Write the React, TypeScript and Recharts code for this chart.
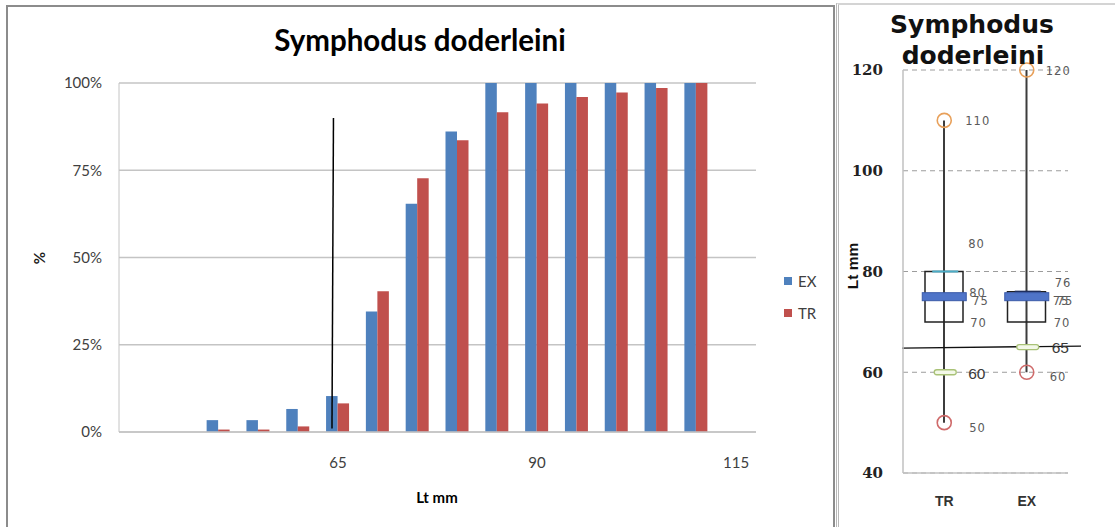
import React from 'react';
import {
  BarChart,
  Bar,
  ComposedChart,
  Scatter,
  XAxis,
  YAxis,
  CartesianGrid,
  Legend,
  ReferenceLine,
} from 'recharts';

// Cumulative length frequency (left chart)
const lengths = [40, 45, 50, 55, 60, 65, 70, 75, 80, 85, 90, 95, 100, 105, 110, 115];
const exPct = [null, null, 3.4, 3.4, 6.6, 10.3, 34.5, 65.4, 86.1, 100, 100, 100, 100, 100, 100, null];
const trPct = [null, null, 0.7, 0.7, 1.6, 8.2, 40.3, 72.7, 83.6, 91.6, 94.1, 96.0, 97.3, 98.6, 100, null];
const pctTicks = [0, 25, 50, 75, 100];
const lengthLabels = [65, 90, 115];
const markLength = 65;
const markSpan = [1, 90];

// Box plot (right chart)
const groups = ['TR', 'EX'];
const boxMin = [50, 60];
const boxQ1 = [70, 70];
const boxMedian = [75, 75];
const boxQ3 = [80, 76];
const boxMax = [110, 120];
const boxMark = [60, 65];
const boxExtra = [80, 75];
const mmTicks = [40, 60, 80, 100, 120];
const mmLine = 65;

const cumTable = lengths.map((len, i) => ({ len, ex: exPct[i], tr: trPct[i] }));

const boxTable = groups.map((name, i) => ({
  name,
  whisker: [boxMin[i], boxMax[i]],
  box: [boxQ1[i], boxQ3[i]],
  min: boxMin[i],
  q1: boxQ1[i],
  median: boxMedian[i],
  q3: boxQ3[i],
  max: boxMax[i],
  mark: boxMark[i],
  extra: boxExtra[i],
}));

const CALIBRI = 'Lato, "Open Sans", sans-serif';
const BLUE = '#4f81bd';
const RED = '#c0504d';

// label offsets next to each box-plot marker, per group [TR, EX]
const TAG_OFFSET: Record<string, number[][]> = {
  max: [[21, 1], [19, 1]],
  min: [[25, 5], [23, 5]],
  q1: [[26, 1], [27, 1]],
  q3: [[24, -28], [28, -9]],
  median: [[28, 4], [26, 4]],
  extra: [[25, 21], [30, 4]],
  mark: [[24, 1], [25, 1]],
};

const smallTag = { fontFamily: '"DejaVu Sans", sans-serif', fontSize: 11.5, fill: '#5a5a5a', letterSpacing: 1 };
const bigTag = { fontFamily: '"Liberation Sans", Arial, sans-serif', fontSize: 15.5, fill: '#3a3a3a' };

function tag(p: any, key: string, big = false) {
  const i = groups.indexOf(p.payload.name);
  const [dx, dy] = TAG_OFFSET[key][i];
  return (
    <text x={p.cx + dx} y={p.cy + dy} dy="0.35em" style={big ? bigTag : smallTag}>
      {p.payload[key]}
    </text>
  );
}

const markerShape = (key: string, draw: (cx: number, cy: number, i: number) => any, big = false) =>
  (p: any) => {
    const i = groups.indexOf(p.payload.name);
    return (
      <g>
        {draw(p.cx, p.cy, i)}
        {tag(p, key, big)}
      </g>
    );
  };

const circle = (color: string) => (cx: number, cy: number) => (
  <circle cx={cx} cy={cy} r={7} fill="none" stroke={color} strokeWidth={1.6} />
);

function LegendBox() {
  const items = [
    { label: 'EX', color: BLUE },
    { label: 'TR', color: RED },
  ];
  return (
    <div style={{ fontFamily: CALIBRI, fontSize: 15, color: '#404040' }}>
      {items.map((it) => (
        <div key={it.label} style={{ display: 'flex', alignItems: 'center', height: 32 }}>
          <span style={{ display: 'inline-block', width: 8, height: 8, background: it.color, marginRight: 6 }} />
          {it.label}
        </div>
      ))}
    </div>
  );
}

export default function App() {
  return (
    <div style={{ position: 'absolute', left: 0, top: 0, width: 1115, height: 527, background: '#fff', overflow: 'hidden' }}>
      {/* panel frames */}
      <div style={{ position: 'absolute', left: 6, top: 5, width: 829, height: 560, boxSizing: 'border-box', border: '2px solid #8c8c8c' }} />
      <div style={{ position: 'absolute', left: 836, top: 3, width: 300, height: 560, boxSizing: 'border-box', borderLeft: '3px double #b8b8b8', borderTop: '2px solid #d4d4d4' }} />

      <div style={{ position: 'absolute', left: 0, top: 0 }}>
        <BarChart
          width={835}
          height={527}
          data={cumTable}
          margin={{ top: 83, right: 79, bottom: 55, left: 59 }}
          barGap={0}
          barSize={11.5}
        >
          <CartesianGrid vertical={false} stroke="#c4c4c4" strokeWidth={1.5} />
          <XAxis
            dataKey="len"
            interval={0}
            height={40}
            tickLine={false}
            tickSize={0}
            tickMargin={25}
            axisLine={{ stroke: '#c4c4c4', strokeWidth: 1.5 }}
            tick={{ fontFamily: CALIBRI, fontSize: 15, fill: '#404040' }}
            tickFormatter={(v) => (lengthLabels.includes(v) ? String(v) : '')}
          />
          <YAxis
            domain={[0, 100]}
            ticks={pctTicks}
            width={60}
            tickLine={false}
            tickSize={0}
            tickMargin={17}
            axisLine={{ stroke: '#c4c4c4' }}
            tick={{ fontFamily: CALIBRI, fontSize: 15, fill: '#404040' }}
            tickFormatter={(v) => `${v}%`}
          />
          <Legend
            layout="vertical"
            align="center"
            verticalAlign="middle"
            wrapperStyle={{ left: 784, top: 265, width: 60 }}
            content={() => <LegendBox />}
          />
          <Bar dataKey="ex" name="EX" fill={BLUE} isAnimationActive={false} />
          <Bar dataKey="tr" name="TR" fill={RED} isAnimationActive={false} />
          <ReferenceLine
            segment={[{ x: markLength, y: markSpan[0] }, { x: markLength, y: markSpan[1] }]}
            shape={(p: any) => (
              <line x1={p.x1 - 6} y1={p.y1} x2={p.x2 - 4.5} y2={p.y2} stroke="#000" strokeWidth={1.5} />
            )}
          />
        </BarChart>
      </div>

      <div style={{ position: 'absolute', left: 835, top: 0 }}>
        <ComposedChart
          width={280}
          height={527}
          data={boxTable}
          margin={{ top: 70, right: 47, bottom: 24, left: 8 }}
        >
          <CartesianGrid xAxisId="main" vertical={false} stroke="#9c9c9c" strokeDasharray="5 4" />
          <XAxis
            xAxisId="main"
            dataKey="name"
            height={30}
            tickLine={false}
            tickSize={0}
            tickMargin={23}
            axisLine={{ stroke: '#c0c0c0', strokeWidth: 1.5 }}
            tick={{ fontFamily: '"Liberation Sans", Arial, sans-serif', fontWeight: 'bold', fontSize: 14, fill: '#333' }}
          />
          <XAxis xAxisId="boxes" dataKey="name" hide height={0} />
          <YAxis
            domain={[40, 120]}
            ticks={mmTicks}
            width={60}
            tickLine={false}
            tickSize={0}
            tickMargin={20}
            axisLine={{ stroke: '#c0c0c0', strokeWidth: 1.5 }}
            tick={{ fontFamily: '"DejaVu Serif", serif', fontWeight: 'bold', fontSize: 15, fill: '#222' }}
          />
          <Bar xAxisId="main" dataKey="whisker" barSize={2} fill="#3c3c3c" isAnimationActive={false} />
          <Bar xAxisId="boxes" dataKey="box" barSize={38} fill="none" stroke="#222" strokeWidth={1.5} isAnimationActive={false} />
          <ReferenceLine
            xAxisId="main"
            y={mmLine}
            shape={(p: any) => (
              <line x1={p.x1 - 1} y1={p.y1 + 1} x2={p.x2 + 13} y2={p.y2 - 1} stroke="#111" strokeWidth={1.3} />
            )}
          />
          <Scatter
            xAxisId="main"
            dataKey="q3"
            isAnimationActive={false}
            shape={markerShape('q3', (cx, cy, i) => (
              <line x1={cx - 12} y1={cy} x2={cx + 14} y2={cy} stroke={i === 0 ? '#4bacc6' : '#1f2f5f'} strokeWidth={2} />
            ))}
          />
          <Scatter
            xAxisId="main"
            dataKey="q1"
            isAnimationActive={false}
            shape={markerShape('q1', () => null)}
          />
          <Scatter
            xAxisId="main"
            dataKey="median"
            isAnimationActive={false}
            shape={markerShape('median', (cx, cy) => (
              <rect x={cx - 22} y={cy - 4} width={44} height={8} fill="#4f74c8" stroke="#3a5aa8" strokeWidth={1} />
            ))}
          />
          <Scatter
            xAxisId="main"
            dataKey="extra"
            isAnimationActive={false}
            shape={markerShape('extra', () => null)}
          />
          <Scatter
            xAxisId="main"
            dataKey="max"
            isAnimationActive={false}
            shape={markerShape('max', circle('#e8a05a'))}
          />
          <Scatter
            xAxisId="main"
            dataKey="min"
            isAnimationActive={false}
            shape={markerShape('min', circle('#cf6b6b'))}
          />
          <Scatter
            xAxisId="main"
            dataKey="mark"
            isAnimationActive={false}
            shape={markerShape('mark', (cx, cy) => (
              <rect x={cx - 10} y={cy - 2.5} width={22} height={5} rx={2.5} fill="#f3f8e8" stroke="#a9c277" strokeWidth={1.3} />
            ), true)}
          />
        </ComposedChart>
      </div>

      {/* titles and axis names */}
      <svg width={1115} height={527} style={{ position: 'absolute', left: 0, top: 0, pointerEvents: 'none' }}>
        <text x={420} y={51} textAnchor="middle" style={{ fontFamily: CALIBRI, fontWeight: 'bold', fontSize: 29.5, fill: '#000' }}>
          Symphodus doderleini
        </text>
        <text
          x={40}
          y={258}
          textAnchor="middle"
          dy="0.35em"
          transform="rotate(-90 40 258)"
          style={{ fontFamily: CALIBRI, fontWeight: 'bold', fontSize: 15, fill: '#222' }}
        >
          %
        </text>
        <text x={437} y={503} textAnchor="middle" style={{ fontFamily: CALIBRI, fontWeight: 'bold', fontSize: 15, fill: '#000' }}>
          Lt mm
        </text>

        <text x={972} y={33} textAnchor="middle" style={{ fontFamily: '"DejaVu Sans", sans-serif', fontWeight: 'bold', fontSize: 25, fill: '#111' }}>
          Symphodus
        </text>
        <text x={973} y={64} textAnchor="middle" style={{ fontFamily: '"DejaVu Sans", sans-serif', fontWeight: 'bold', fontSize: 25, fill: '#111' }}>
          doderleini
        </text>
        <text
          x={853}
          y={266}
          textAnchor="middle"
          dy="0.35em"
          transform="rotate(-90 853 266)"
          style={{ fontFamily: '"Liberation Sans", Arial, sans-serif', fontWeight: 'bold', fontSize: 15.5, fill: '#111' }}
        >
          Lt mm
        </text>
      </svg>
    </div>
  );
}
